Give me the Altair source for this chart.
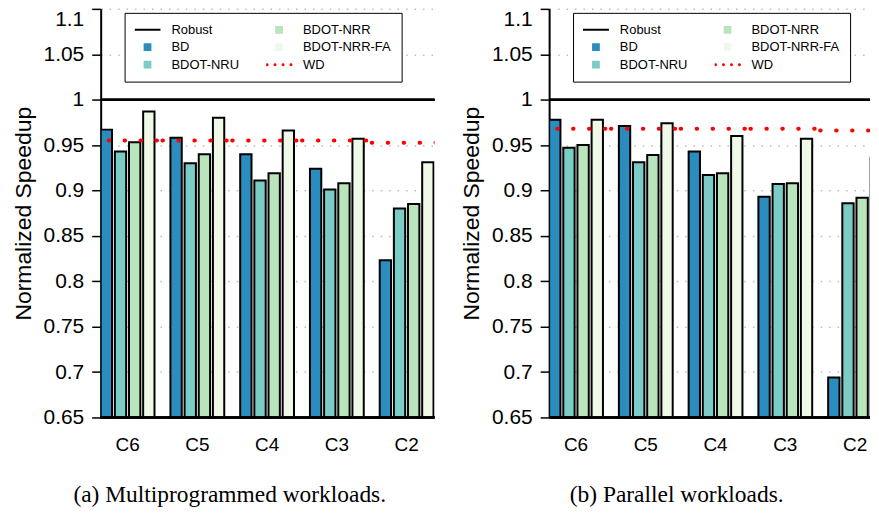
import altair as alt
import pandas as pd

categories = ["C6", "C5", "C4", "C3", "C2"]
series = ["BD", "BDOT-NRU", "BDOT-NRR", "BDOT-NRR-FA"]
bar_colors = ["#2b8cbe", "#7bccc4", "#bae4bc", "#f0f9e8"]
legend_order = ["Robust", "BD", "BDOT-NRU", "BDOT-NRR", "BDOT-NRR-FA", "WD"]

# (a) Multiprogrammed workloads
mp_bd = [0.967, 0.958, 0.940, 0.924, 0.823]
mp_nru = [0.943, 0.930, 0.911, 0.901, 0.880]
mp_nrr = [0.953, 0.940, 0.919, 0.908, 0.885]
mp_fa = [0.987, 0.980, 0.966, 0.957, 0.931]
mp_wd = [0.955, 0.955, 0.955, 0.955, 0.9525]

# (b) Parallel workloads
par_bd = [0.978, 0.971, 0.943, 0.893, 0.694]
par_nru = [0.947, 0.931, 0.917, 0.907, 0.886]
par_nrr = [0.950, 0.939, 0.919, 0.908, 0.892]
par_fa = [0.978, 0.974, 0.960, 0.957, 0.936]
par_wd = [0.968, 0.968, 0.968, 0.968, 0.966]

y_ticks = [0.65, 0.7, 0.75, 0.8, 0.85, 0.9, 0.95, 1.0, 1.05, 1.1]

color_map = dict(zip(series, bar_colors))
color_map["Robust"] = "black"
color_map["WD"] = "red"
color_range = [color_map[k] for k in legend_order]

SQUARE = "M-0.3,-0.3H0.3V0.3H-0.3Z"
LINE = "M-1,-0.08H1V0.08H-1Z"
DOTS = " ".join(
    f"M{c - 0.115:.3f},0a0.115,0.115 0 1,0 0.23,0a0.115,0.115 0 1,0 -0.23,0Z"
    for c in (-0.92, -0.31, 0.31, 0.92)
)
shape_map = {"Robust": LINE, "WD": DOTS}
shape_range = [shape_map.get(k, SQUARE) for k in legend_order]

FONT = "Liberation Sans"
HEIGHT = 410


def make_legend():
    return alt.Legend(
        title=None, orient="none", legendX=24, legendY=4, columns=2,
        strokeColor="black", fillColor="white", padding=10,
        labelFont=FONT, labelFontSize=13, labelColor="black",
        symbolSize=676, symbolStrokeWidth=0, symbolOpacity=1,
        labelOffset=11, columnPadding=27, rowPadding=3.5, clipHeight=14,
    )


def panel(bd, nru, nrr, fa, wd, caption, width, dx):
    rows = []
    for vals, s in zip([bd, nru, nrr, fa], series):
        for c, v in zip(categories, vals):
            rows.append({"cat": c, "series": s, "value": v})
    bars_df = pd.DataFrame(rows)
    wd_df = pd.DataFrame({"cat": categories, "wd": wd})
    key_df = pd.DataFrame({"item": legend_order, "cat": categories[0], "v": 0.5})

    xscale = alt.Scale(domain=categories, range=[0, 334], paddingInner=16 / 70, paddingOuter=0)
    yscale = alt.Scale(domain=[0.65, 1.1], zero=False, nice=False)

    yaxis = alt.Axis(
        title="Normalized Speedup", titleFont=FONT, titleFontSize=23, titleFontWeight="normal",
        titleColor="black", titlePadding=8,
        values=y_ticks, format=".2~f", labelFont=FONT, labelFontSize=21, labelColor="black",
        labelPadding=8, tickSize=9, tickColor="black", tickWidth=1.5,
        domainColor="black", domainWidth=2,
        grid=True, gridDash=[1.5, 7], gridColor="#bdbdbd", gridWidth=1.5,
        labelBaseline={"condition": {"test": "datum.value >= 1.09", "value": "top"}, "value": "middle"},
    )

    bars = alt.Chart(bars_df).mark_bar(stroke="black", strokeWidth=2, clip=True).encode(
        x=alt.X("cat:N", scale=xscale, axis=None, sort=categories),
        xOffset=alt.XOffset("series:N", sort=series,
                            scale=alt.Scale(domain=series, paddingInner=0.2, paddingOuter=0)),
        y=alt.Y("value:Q", scale=yscale, axis=yaxis),
        fill=alt.Fill("series:N", scale=alt.Scale(domain=series, range=bar_colors), legend=None),
    )

    wd_rule = alt.Chart(wd_df).mark_rule(
        color="red", strokeWidth=4, strokeDash=[0.5, 15.5], strokeCap="round", clip=True,
        xOffset=-8, x2Offset=8,
    ).encode(
        x=alt.X("cat:N", bandPosition=0),
        x2=alt.X2("cat", bandPosition=1),
        y=alt.Y("wd:Q"),
    )

    robust = alt.Chart(wd_df).mark_rule(color="black", strokeWidth=2).encode(y=alt.datum(1.0))
    base = alt.Chart(wd_df).mark_rule(color="black", strokeWidth=2).encode(y=alt.datum(0.65))

    xlabels = alt.Chart(wd_df).mark_text(
        font=FONT, fontSize=19, color="black", baseline="middle", dy=28
    ).encode(x=alt.X("cat:N"), y=alt.value(HEIGHT), text="cat:N")

    key = alt.Chart(key_df).mark_point(filled=True, opacity=1, size=676, clip=True).encode(
        x=alt.X("cat:N"),
        y=alt.Y("v:Q"),
        color=alt.Color("item:N", scale=alt.Scale(domain=legend_order, range=color_range),
                        legend=make_legend()),
        shape=alt.Shape("item:N", scale=alt.Scale(domain=legend_order, range=shape_range),
                        legend=make_legend()),
    )

    return alt.layer(bars, wd_rule, robust, base, xlabels, key).properties(
        width=width, height=HEIGHT,
        title=alt.TitleParams(caption, orient="bottom", font="Liberation Serif", fontSize=23.5,
                              fontWeight="normal", color="black", offset=28, dx=dx),
    )


left = panel(mp_bd, mp_nru, mp_nrr, mp_fa, mp_wd, "(a) Multiprogrammed workloads.", 335, -38)
right = panel(par_bd, par_nru, par_nrr, par_fa, par_wd, "(b) Parallel workloads.", 322, -33)

chart = alt.hconcat(left, right, spacing=115, bounds="flush").resolve_scale(
    color="independent", shape="independent", fill="independent"
).resolve_legend(color="independent", shape="independent").properties(
    padding={"left": 4, "top": -1, "right": 0, "bottom": 0}
).configure_view(stroke=None)

chart.save("out.html", embed_options={"renderer": "svg", "actions": False})
